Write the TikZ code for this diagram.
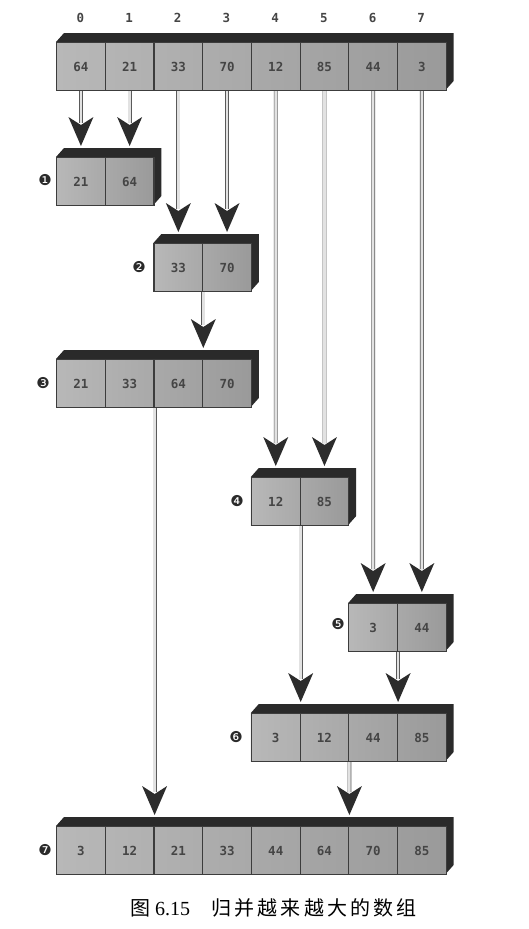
\documentclass[tikz,border=0pt]{standalone}
\usepackage{fontspec}
\setmainfont{Liberation Serif}
\newfontfamily\numfont{DejaVu Sans Mono}
\newfontfamily\symfont{DejaVu Sans}
\newfontfamily\cjk{Noto Sans CJK SC}
\usetikzlibrary{decorations.markings,calc}

\definecolor{facedark}{HTML}{2A2A2A}
\definecolor{cellL}{HTML}{B8B8B8}
\definecolor{cellR}{HTML}{9A9A9A}
\definecolor{edgec}{HTML}{3C3C3C}
\definecolor{shaftc}{HTML}{5A5A5A}
\definecolor{shaftin}{HTML}{E2E2E2}
\definecolor{headc}{HTML}{2C2C2C}
\definecolor{numc}{HTML}{454545}

\tikzset{
  cellbox/.style={draw=edgec, line width=1.2pt, minimum width=48.7pt, minimum height=48pt,
    inner sep=0pt, anchor=north west, font=\numfont\bfseries\fontsize{12.5}{12.5}\selectfont, text=numc},
  idxlab/.style={font=\numfont\bfseries\fontsize{12.5}{12.5}\selectfont, text=numc},
  steplab/.style={font=\symfont\fontsize{15}{15}\selectfont, text=facedark, inner sep=0pt},
  conn/.style={
    preaction={draw=shaftc, line width=0.6pt, double=shaftin, double distance=2.6pt, shorten >=34pt},
    postaction={decorate, decoration={markings, mark=at position -11pt with {
      \fill[headc] (0pt,0pt) -- (-29pt,12.5pt) -- (-21pt,0pt) -- (-29pt,-12.5pt) -- cycle;}}}
  }
}

% name, x0, y0, n cells, values
\newcommand\drawarr[5]{%
  \pgfmathsetmacro\xr{#2+#4*48.7}%
  \pgfmathsetmacro\yb{#3+48}%
  \fill[facedark] (#2,#3) -- (#2+8,#3-9) -- (\xr+8,#3-9) -- (\xr+8,\yb-9) -- (\xr,\yb) -- (\xr,#3) -- cycle;
  \shade[left color=cellL, right color=cellR] (#2,#3) rectangle (\xr,\yb);
  \foreach \v [count=\i from 0] in {#5} {
    \node[cellbox] (#1-\i) at ({#2+\i*48.7},#3) {\v};
  }
}

\begin{document}
\begin{tikzpicture}[x=1pt, y=-1pt]
\useasboundingbox (0,0) rectangle (529,929);
\fill[white] (0,0) rectangle (529,929);

% arrays
\drawarr{top}{56}{42}{8}{64,21,33,70,12,85,44,3}
\drawarr{a1}{56}{157}{2}{21,64}
\drawarr{a2}{153.4}{243}{2}{33,70}
\drawarr{a3}{56}{359}{4}{21,33,64,70}
\drawarr{a4}{250.8}{477}{2}{12,85}
\drawarr{a5}{348.2}{603}{2}{3,44}
\drawarr{a6}{250.8}{713}{4}{3,12,44,85}
\drawarr{a7}{56}{826}{8}{3,12,21,33,44,64,70,85}

% index labels
\foreach \i in {0,...,7} {
  \node[idxlab] (idx\i) at ({56+(\i+0.5)*48.7},18) {\i};
}

% step labels
\node[steplab] (s1) at (45,180) {❶};
\node[steplab] (s2) at (139,267) {❷};
\node[steplab] (s3) at (43,383) {❸};
\node[steplab] (s4) at (237,501) {❹};
\node[steplab] (s5) at (338,624) {❺};
\node[steplab] (s6) at (236,737) {❻};
\node[steplab] (s7) at (45,850) {❼};

% connectors
\path[conn] (top-0.south) -- (a1-0.north);
\path[conn] (top-1.south) -- (a1-1.north);
\path[conn] (top-2.south) -- (a2-0.north);
\path[conn] (top-3.south) -- (a2-1.north);
\path[conn] (top-4.south) -- (a4-0.north);
\path[conn] (top-5.south) -- (a4-1.north);
\path[conn] (top-6.south) -- (a5-0.north);
\path[conn] (top-7.south) -- (a5-1.north);
\path[conn] (a2-0.south east) -- (a3-2.north east);
\path[conn] (a4-0.south east) -- (a6-0.north east);
\path[conn] (a5-0.south east) -- (a6-2.north east);
\path[conn] (a3-1.south east) -- (a7-1.north east);
\path[conn] (a6-1.south east) -- (a7-5.north east);

% caption
\node[font=\fontsize{20}{20}\selectfont, inner sep=0pt] (cap1) at (160,908) {{\cjk 图} 6.15};
\node[font=\cjk\fontsize{20}{20}\selectfont\addfontfeature{LetterSpace=16}, inner sep=0pt, anchor=west] (cap2) at (211,908) {归并越来越大的数组};
\end{tikzpicture}
\end{document}
